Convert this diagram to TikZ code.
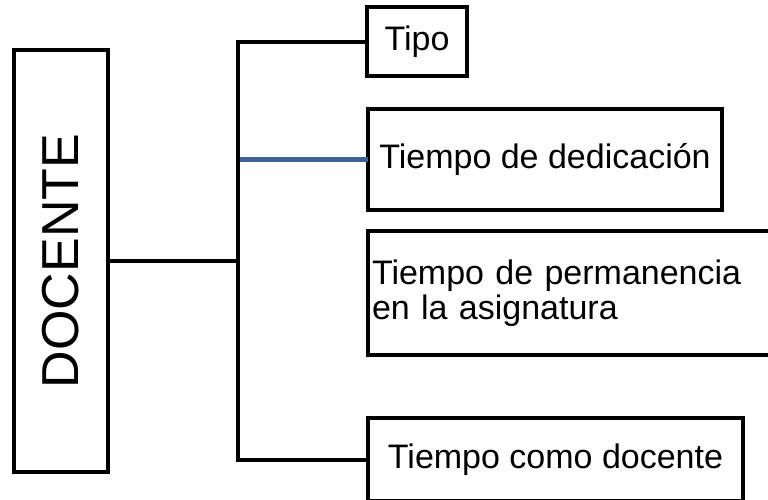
\documentclass[tikz,border=0pt]{standalone}
\usepackage{fontspec}
\setmainfont{Liberation Sans}
\definecolor{linkblue}{RGB}{63,98,148}
\begin{document}
\begin{tikzpicture}[x=1pt,y=-1pt,
  box/.style={draw=black,line width=4pt,inner sep=0pt,outer sep=0pt,
    font=\fontsize{34}{35}\selectfont},
  conn/.style={draw=black,line width=4pt,line join=miter},
  blueconn/.style={draw=linkblue,line width=4.5pt}]
\useasboundingbox (0,0) rectangle (768,499);
\node[box,rotate=90,minimum width=422pt,minimum height=94pt,
  font=\fontsize{52}{54}\selectfont] (doc) at (61,261) {DOCENTE};
\node[box,minimum width=100pt,minimum height=69pt] (tipo) at (417,41.5) {Tipo};
\node[box,minimum width=354pt,minimum height=101pt] (ded) at (545,159.5) {Tiempo de dedicación};
\node[box,inner xsep=4pt,text width=424pt,align=left,minimum height=124pt] (perm) at (584,293)
  {Tiempo de permanencia\\en la asignatura};
\node[box,minimum width=375pt,minimum height=83pt] (como) at (555.5,459.5) {Tiempo como docente};
\coordinate (sp) at (238,0);
\draw[blueconn] (ded.west -| sp) -- (ded.west);
\draw[conn] (doc.south) -- (doc.south -| sp);
\draw[conn] (tipo.west) -| (sp |- como.west) -- (como.west);
\end{tikzpicture}
\end{document}
